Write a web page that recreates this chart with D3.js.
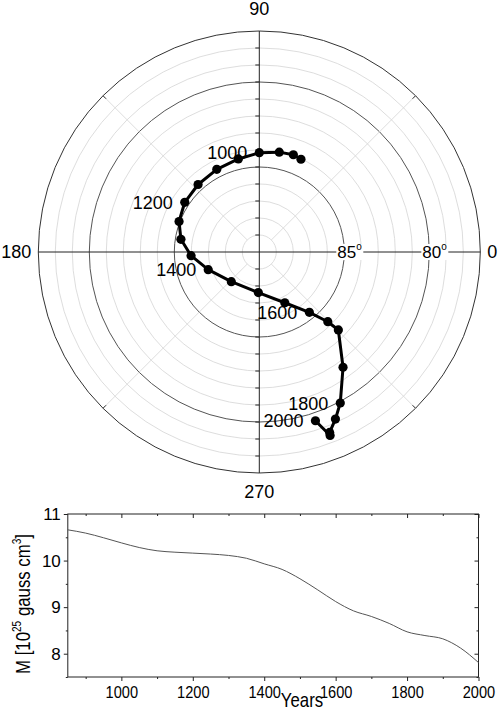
<!DOCTYPE html>
<html>
<head>
<meta charset="utf-8">
<script src="https://cdn.jsdelivr.net/npm/d3@7"></script>
<style>
  body { margin: 0; background: #fff; }
  text { font-family: "Liberation Sans", Arial, sans-serif; fill: #000; }
</style>
</head>
<body>
<svg id="chart" width="500" height="713"></svg>
<script>
// VGP path, 850 - 2000 AD
const years = [850, 900, 950, 1000, 1050, 1100, 1150, 1200, 1250, 1300, 1350, 1400,
               1450, 1500, 1550, 1600, 1650, 1700, 1750, 1800, 1850, 1900, 1950, 2000];
const poleLon = [65.8, 70.7, 78.7, 90.0, 102.7, 117.2, 132.2, 146.3, 159.2, 170.8, 183.1, 199.1,
                 226.7, 268.6, 296.7, 309.7, 314.5, 315.4, 306.0, 298.2, 294.5, 291.3, 291.1, 288.4];
const poleLat = [84.02, 83.94, 84.01, 84.16, 84.39, 84.53, 84.64, 84.73, 84.95, 85.33, 85.98, 86.82,
                 87.60, 87.61, 86.66, 85.39, 84.25, 83.47, 81.62, 79.92, 79.20, 78.61, 78.43, 79.54];
// dipole moment, 10^25 gauss cm^3
const moment = [10.66, 10.59, 10.49, 10.38, 10.28, 10.21, 10.18, 10.16, 10.14, 10.11, 10.05, 9.93,
                9.81, 9.61, 9.37, 9.12, 8.92, 8.80, 8.65, 8.47, 8.39, 8.32, 8.12, 7.81];

const labelYears = [1000, 1200, 1400, 1600, 1800, 2000];
const angleLabels = [0, 90, 180, 270];
const spokeAngles = [45, 135, 225, 315];
const latRings = [89, 88, 87, 86, 85, 84, 83, 82, 81, 80, 79, 78, 77];
const latMajor = [85, 80];
const yearTicks = [1000, 1200, 1400, 1600, 1800, 2000];
const yearMinor = [900, 1100, 1300, 1500, 1700, 1900];
const momentTicks = [8, 9, 10, 11];
const momentMinor = [7.5, 8.5, 9.5, 10.5];

const svg = d3.select("#chart");

// ---------- polar plot ----------
const cx = 259.3, cy = 252;
const r = d3.scaleLinear().domain([90, 77]).range([0, 221]);
const rad = d => d * Math.PI / 180;
const px = (lon, lat) => cx + r(lat) * Math.cos(rad(lon));
const py = (lon, lat) => cy - r(lat) * Math.sin(rad(lon));

const polar = svg.append("g");

polar.append("g").selectAll("circle")
    .data(latRings)
    .join("circle")
    .attr("cx", cx).attr("cy", cy)
    .attr("r", d => r(d))
    .attr("fill", "none")
    .attr("stroke", d => d === 77 ? "#333" : latMajor.includes(d) ? "#555" : "#d4d4d4")
    .attr("stroke-width", d => d === 77 || latMajor.includes(d) ? 1 : 0.8);

// grey spokes + short dark ticks on the rim
polar.append("g").selectAll("line")
    .data(spokeAngles)
    .join("line")
    .attr("x1", d => px(d, 89)).attr("y1", d => py(d, 89))
    .attr("x2", d => px(d, 77)).attr("y2", d => py(d, 77))
    .attr("stroke", "#d4d4d4").attr("stroke-width", 0.8);

polar.append("g").selectAll("line")
    .data(spokeAngles)
    .join("line")
    .attr("x1", d => px(d, 77.25)).attr("y1", d => py(d, 77.25))
    .attr("x2", d => px(d, 77)).attr("y2", d => py(d, 77))
    .attr("stroke", "#333").attr("stroke-width", 1);

// main axes
polar.append("g").selectAll("line")
    .data([0, 90])
    .join("line")
    .attr("x1", d => px(d, 77)).attr("y1", d => py(d, 77))
    .attr("x2", d => px(d + 180, 77)).attr("y2", d => py(d + 180, 77))
    .attr("stroke", "#222").attr("stroke-width", 1);

// ticks on the vertical axis
const tickLats = latRings.filter(d => d !== 77);
polar.append("g").selectAll("line")
    .data(tickLats.flatMap(d => [[90, d], [270, d]]))
    .join("line")
    .attr("x1", cx - 4).attr("x2", cx)
    .attr("y1", d => py(d[0], d[1])).attr("y2", d => py(d[0], d[1]))
    .attr("stroke", "#222").attr("stroke-width", 1);

// latitude labels with white backing
const latLab = polar.append("g").selectAll("g")
    .data(latMajor)
    .join("g")
    .attr("transform", d => `translate(${px(0, d) - 7},${cy})`);
latLab.append("rect")
    .attr("x", -1).attr("y", -8).attr("width", 27).attr("height", 16)
    .attr("fill", "#fff");
const latText = latLab.append("text")
    .attr("dy", "0.36em")
    .attr("font-size", 17);
latText.append("tspan").text(d => d);
latText.append("tspan").attr("font-size", 10).attr("dy", -8).text("o");

// angle labels
const angPos = {
    0:   { x: px(0, 77) + 7,   y: cy, anchor: "start",  dy: "0.36em" },
    90:  { x: cx,              y: py(90, 77) - 16, anchor: "middle", dy: "0" },
    180: { x: px(180, 77) - 7, y: cy, anchor: "end",    dy: "0.36em" },
    270: { x: cx,              y: py(270, 77) + 25, anchor: "middle", dy: "0" }
};
polar.append("g").selectAll("text")
    .data(angleLabels)
    .join("text")
    .attr("x", d => angPos[d].x).attr("y", d => angPos[d].y)
    .attr("dy", d => angPos[d].dy)
    .attr("text-anchor", d => angPos[d].anchor)
    .attr("font-size", 18)
    .text(d => d);

// pole path
const path = years.map((y, i) => ({ year: y, lon: poleLon[i], lat: poleLat[i] }));
polar.append("path")
    .datum(path)
    .attr("d", d3.line().x(d => px(d.lon, d.lat)).y(d => py(d.lon, d.lat)))
    .attr("fill", "none")
    .attr("stroke", "#000")
    .attr("stroke-width", 3)
    .attr("stroke-linejoin", "round");

polar.append("g").selectAll("circle")
    .data(path)
    .join("circle")
    .attr("cx", d => px(d.lon, d.lat))
    .attr("cy", d => py(d.lon, d.lat))
    .attr("r", 4.6)
    .attr("fill", "#000");

polar.append("g").selectAll("text")
    .data(path.filter(d => labelYears.includes(d.year)))
    .join("text")
    .attr("x", d => px(d.lon, d.lat) - 12)
    .attr("y", d => py(d.lon, d.lat))
    .attr("dy", "0.36em")
    .attr("text-anchor", "end")
    .attr("font-size", 18)
    .text(d => d.year);

// ---------- moment plot ----------
const x = d3.scaleLinear().domain([850, 2000]).range([67.8, 478.5]);
const y = d3.scaleLinear().domain([7.5, 11]).range([677, 514]);
const bottom = svg.append("g");

const axB = bottom.append("g").attr("transform", `translate(0,${y(7.5)})`)
    .call(d3.axisBottom(x).tickValues(yearTicks).tickSize(4).tickPadding(5).tickFormat(d3.format("d")));
bottom.append("g").attr("transform", `translate(0,${y(7.5)})`)
    .call(d3.axisBottom(x).tickValues(yearMinor).tickSize(2).tickFormat(""));
bottom.append("g").attr("transform", `translate(0,${y(11)})`)
    .call(d3.axisBottom(x).tickValues(yearTicks).tickSize(4).tickFormat(""));
bottom.append("g").attr("transform", `translate(0,${y(11)})`)
    .call(d3.axisBottom(x).tickValues(yearMinor).tickSize(2).tickFormat(""));

const axL = bottom.append("g").attr("transform", `translate(${x(850)},0)`)
    .call(d3.axisLeft(y).tickValues(momentTicks).tickSize(4).tickPadding(3).tickFormat(d3.format("d")));
bottom.append("g").attr("transform", `translate(${x(850)},0)`)
    .call(d3.axisLeft(y).tickValues(momentMinor).tickSize(2).tickFormat(""));
bottom.append("g").attr("transform", `translate(${x(2000)},0)`)
    .call(d3.axisLeft(y).tickValues(momentTicks).tickSize(4).tickFormat(""));
bottom.append("g").attr("transform", `translate(${x(2000)},0)`)
    .call(d3.axisLeft(y).tickValues(momentMinor).tickSize(2).tickFormat(""));

bottom.selectAll(".domain").remove();
bottom.selectAll(".tick line").attr("stroke", "#222");
axB.selectAll("text").attr("font-size", 17).attr("font-family", null)
    .attr("transform", "scale(0.86,1)");
axL.selectAll("text").attr("font-size", 17).attr("font-family", null);

bottom.append("rect")
    .attr("x", x(850)).attr("y", y(11))
    .attr("width", x(2000) - x(850)).attr("height", y(7.5) - y(11))
    .attr("fill", "none").attr("stroke", "#222").attr("stroke-width", 1);

bottom.append("path")
    .datum(years.map((yr, i) => [yr, moment[i]]))
    .attr("d", d3.line().x(d => x(d[0])).y(d => y(d[1])).curve(d3.curveMonotoneX))
    .attr("fill", "none")
    .attr("stroke", "#555")
    .attr("stroke-width", 1);

bottom.append("text")
    .attr("transform", "translate(302,707) scale(0.84,1)")
    .attr("text-anchor", "middle")
    .attr("font-size", 20)
    .text("Years");

const yLab = bottom.append("text")
    .attr("transform", "translate(30,604) rotate(-90) scale(0.84,1)")
    .attr("text-anchor", "middle")
    .attr("font-size", 20);
yLab.append("tspan").text("M [10");
yLab.append("tspan").attr("font-size", 12).attr("dy", -9).text("25");
yLab.append("tspan").attr("dy", 9).text(" gauss cm");
yLab.append("tspan").attr("font-size", 12).attr("dy", -9).text("3");
yLab.append("tspan").attr("dy", 9).text("]");
</script>
</body>
</html>
